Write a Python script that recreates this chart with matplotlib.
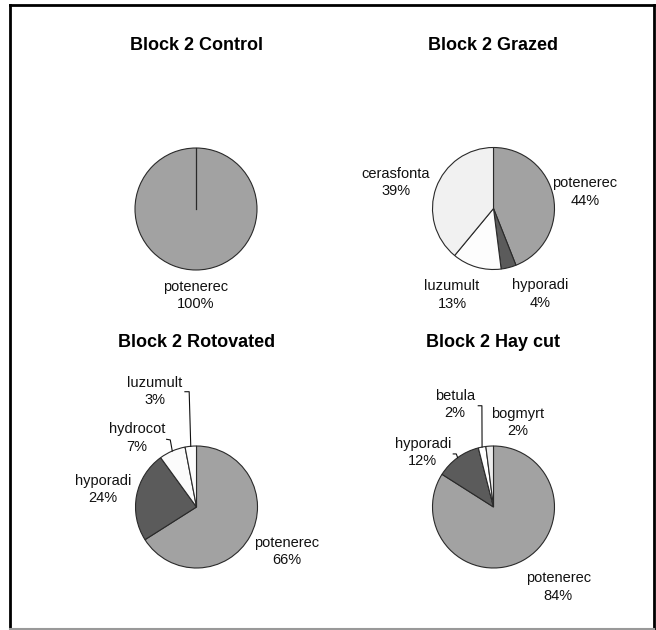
import matplotlib
matplotlib.use("Agg")
import matplotlib.pyplot as plt
import numpy as np
from matplotlib.lines import Line2D

plt.rcParams['font.family'] = ['Liberation Sans', 'DejaVu Sans']

# data
titles = ["Block 2 Control", "Block 2 Grazed", "Block 2 Rotovated", "Block 2 Hay cut"]

control_labels = ["potenerec"]
control_values = [100]

grazed_labels = ["potenerec", "hyporadi", "luzumult", "cerasfonta"]
grazed_values = [44, 4, 13, 39]

rotovated_labels = ["potenerec", "hyporadi", "hydrocot", "luzumult"]
rotovated_values = [66, 24, 7, 3]

haycut_labels = ["potenerec", "hyporadi", "betula", "bogmyrt"]
haycut_values = [84, 12, 2, 2]

species_colors = {
    "potenerec": "#a2a2a2",
    "hyporadi": "#5b5b5b",
    "luzumult": "#fdfdfd",
    "cerasfonta": "#f1f1f1",
    "hydrocot": "#fbfbfb",
    "betula": "#ffffff",
    "bogmyrt": "#ececec",
}

# layout (pixels / pie-radius units)
W, H = 656, 630
R = 61.0        # pie radius in px
S = 250.0       # axes box size in px
centers = [(196, 209), (493.5, 208.5), (196.5, 507), (493.5, 507)]
title_y = [45, 45, 343, 343]

label_pos = [
    [(0.0, -1.42)],
    [(1.50, 0.27), (0.76, -1.40), (-0.68, -1.42), (-1.60, 0.43)],
    [(1.48, -0.73), (-1.53, 0.29), (-0.98, 1.13), (-0.68, 1.89)],
    [(1.06, -1.31), (-1.16, 0.89), (-0.63, 1.68), (0.40, 1.39)],
]
# leader lines: (wedge index, start point, elbow point)
leaders = [
    [],
    [],
    [(2, (-0.49, 1.11), (-0.43, 1.10)), (3, (-0.19, 1.89), (-0.12, 1.89))],
    [(1, (-0.66, 0.87), (-0.61, 0.87)), (2, (-0.25, 1.66), (-0.19, 1.66))],
]

all_labels = [control_labels, grazed_labels, rotovated_labels, haycut_labels]
all_values = [control_values, grazed_values, rotovated_values, haycut_values]

edge = "#2a2a2a"

fig = plt.figure(figsize=(W / 100, H / 100), dpi=100)

for i in range(4):
    cx, cy = centers[i]
    ax = fig.add_axes([(cx - S / 2) / W, 1 - (cy + S / 2) / H, S / W, S / H])
    lim = S / 2 / R
    labels = all_labels[i]
    values = all_values[i]
    cols = [species_colors[l] for l in labels]
    wedges, _ = ax.pie(values, colors=cols, startangle=90, counterclock=False,
                       radius=1, wedgeprops=dict(edgecolor=edge, linewidth=0.8))
    if len(values) == 1:
        ax.plot([0, 0], [0, 1], color=edge, lw=0.9)
    ax.set_xlim(-lim, lim)
    ax.set_ylim(-lim, lim)
    ax.axis('off')

    total = float(sum(values))
    for j, lab in enumerate(labels):
        pct = "%d%%" % round(values[j] / total * 100)
        x, y = label_pos[i][j]
        ax.text(x, y, lab + "\n" + pct, ha="center", va="center",
                fontsize=10.5, linespacing=1.3, color="#111111")

    for j, p0, p1 in leaders[i]:
        w = wedges[j]
        mid = np.deg2rad((w.theta1 + w.theta2) / 2)
        ax.plot([p0[0], p1[0], np.cos(mid)], [p0[1], p1[1], np.sin(mid)],
                color="#111111", lw=0.8)

    fig.text(cx / W, 1 - title_y[i] / H, titles[i], ha="center", va="center",
             fontsize=13, fontweight="bold")

# outer frame
fig.add_artist(Line2D([10 / W, 10 / W], [1 - 5 / H, 1 - 629 / H], color="black", lw=2))
fig.add_artist(Line2D([10 / W, 654 / W], [1 - 5 / H, 1 - 5 / H], color="black", lw=2))
fig.add_artist(Line2D([654 / W, 654 / W], [1 - 5 / H, 1 - 629 / H], color="black", lw=2))
fig.add_artist(Line2D([10 / W, 654 / W], [1 - 629 / H, 1 - 629 / H], color="#999999", lw=1.5))

plt.savefig("out.png", dpi=100)
